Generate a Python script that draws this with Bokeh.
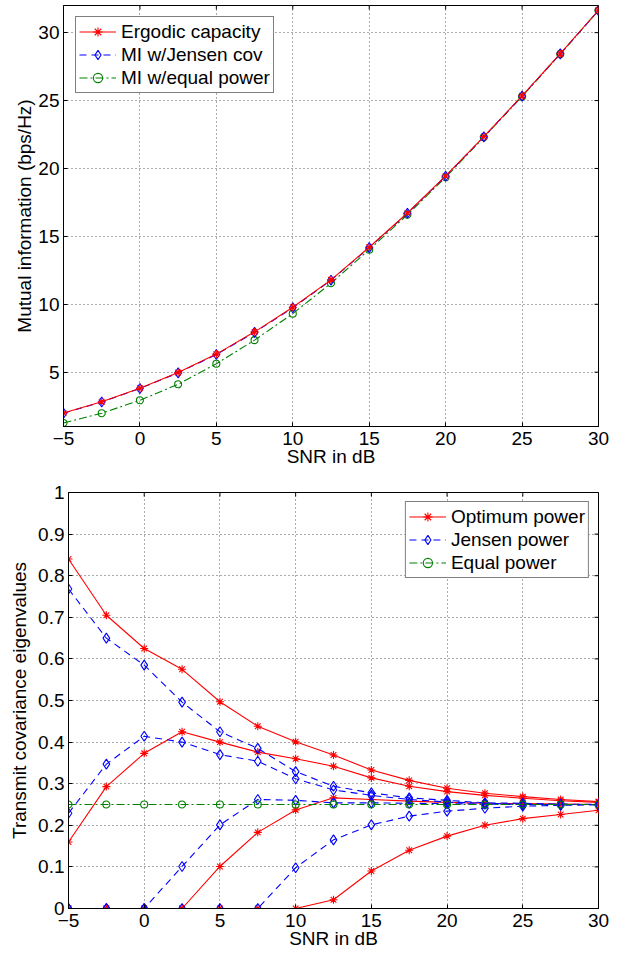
import math
from bokeh.plotting import figure
from bokeh.models import FixedTicker, Legend, LegendItem, Spacer
from bokeh.layouts import column, row
from bokeh.embed import file_html
from bokeh.resources import INLINE

# ---------------- data ----------------
snr = [-5, -2.5, 0, 2.5, 5, 7.5, 10, 12.5, 15, 17.5, 20, 22.5, 25, 27.5, 30]

# top panel: mutual information (bps/Hz)
ergodic = [2.0, 2.82, 3.82, 4.97, 6.33, 7.97, 9.78, 11.8, 14.2, 16.72, 19.45, 22.35, 25.35, 28.45, 31.65]
jensen_mi = [1.98, 2.8, 3.8, 4.95, 6.3, 7.93, 9.74, 11.77, 14.17, 16.7, 19.43, 22.33, 25.33, 28.44, 31.64]
equal_mi = [1.26, 1.98, 2.93, 4.11, 5.62, 7.36, 9.31, 11.55, 14.02, 16.6, 19.35, 22.3, 25.3, 28.42, 31.63]

# bottom panel: transmit covariance eigenvalues
opt1 = [0.84, 0.705, 0.625, 0.575, 0.497, 0.438, 0.401, 0.369, 0.333, 0.308, 0.289, 0.277, 0.269, 0.262, 0.257]
opt2 = [0.16, 0.293, 0.373, 0.425, 0.40, 0.376, 0.36, 0.342, 0.314, 0.294, 0.281, 0.272, 0.265, 0.259, 0.255]
opt3 = [0, 0, 0, 0, 0.101, 0.183, 0.237, 0.266, 0.262, 0.258, 0.255, 0.253, 0.252, 0.251, 0.25]
opt4 = [0, 0, 0, 0, 0, 0, 0, 0.021, 0.09, 0.14, 0.174, 0.2, 0.216, 0.226, 0.236]

jen1 = [0.768, 0.65, 0.585, 0.496, 0.425, 0.385, 0.329, 0.294, 0.278, 0.266, 0.26, 0.254, 0.253, 0.251, 0.25]
jen2 = [0.229, 0.347, 0.414, 0.40, 0.37, 0.354, 0.312, 0.285, 0.272, 0.262, 0.256, 0.253, 0.25, 0.25, 0.25]
jen3 = [0, 0, 0, 0.101, 0.201, 0.262, 0.26, 0.254, 0.254, 0.253, 0.252, 0.251, 0.25, 0.25, 0.25]
jen4 = [0, 0, 0, 0, 0, 0, 0.098, 0.165, 0.201, 0.222, 0.234, 0.241, 0.246, 0.248, 0.249]

eqp = [0.25, 0.25, 0.25, 0.25, 0.25, 0.25, 0.25, 0.25, 0.25, 0.25, 0.25, 0.25, 0.25, 0.25, 0.25]

x_ticks = [-5, 0, 5, 10, 15, 20, 25, 30]
top_y_ticks = [5, 10, 15, 20, 25, 30]
bot_y_ticks = [0, 0.1, 0.2, 0.3, 0.4, 0.5, 0.6, 0.7, 0.8, 0.9, 1.0]

x_lim = (-5, 30)
top_y_lim = (1, 32)
bot_y_lim = (0, 1)

# ---------------- styling ----------------
FONT = "Liberation Sans"
FS = "19px"
RED = "#FF0000"
BLUE = "#0000FF"
GREEN = "#008000"
LW = 1.1
TICK = 4


def style_axis(ax):
    ax.major_tick_in = TICK
    ax.major_tick_out = 0
    ax.minor_tick_line_color = None
    ax.axis_line_color = "black"
    ax.major_tick_line_color = "black"
    ax.major_label_text_font = FONT
    ax.major_label_text_font_size = FS
    ax.major_label_text_color = "black"
    ax.axis_label_text_font = FONT
    ax.axis_label_text_font_size = FS
    ax.axis_label_text_font_style = "normal"
    ax.axis_label_text_color = "black"


def make_fig(width, height, yr, yticks, ylabel, b_left, b_top, b_bottom, ylab_standoff):
    p = figure(width=width, height=height, x_range=x_lim, y_range=yr,
               output_backend="svg", toolbar_location=None,
               min_border_left=b_left, min_border_right=22,
               min_border_top=b_top, min_border_bottom=b_bottom,
               x_axis_label="SNR in dB", y_axis_label=ylabel)
    p.xaxis.ticker = FixedTicker(ticks=x_ticks)
    p.yaxis.ticker = FixedTicker(ticks=yticks)
    for ax in p.xaxis + p.yaxis:
        style_axis(ax)
    p.xaxis.major_label_standoff = 5
    p.xaxis.axis_label_standoff = -2
    p.yaxis.major_label_standoff = 4
    p.yaxis.axis_label_standoff = ylab_standoff
    p.xaxis.major_label_overrides = {-5: "\u22125"}
    p.grid.grid_line_dash = "1 3"
    p.grid.grid_line_color = "#555555"
    p.grid.grid_line_width = 1
    p.outline_line_color = "black"
    p.outline_line_width = 1
    p.background_fill_color = "white"
    p.border_fill_color = "white"
    # inward ticks on the right and top edges of the box (clipped to frame)
    p.scatter([x_lim[1]] * len(yticks), yticks, marker="dash", size=2 * TICK,
              line_color="black", line_width=1)
    p.scatter(x_ticks, [yr[1]] * len(x_ticks), marker="dash", size=2 * TICK,
              angle=math.pi / 2, line_color="black", line_width=1)
    return p


def style_legend(lg):
    lg.label_text_font = FONT
    lg.label_text_font_size = FS
    lg.label_text_color = "black"
    lg.border_line_color = "black"
    lg.border_line_width = 1
    lg.background_fill_color = "white"
    lg.background_fill_alpha = 1
    lg.padding = 3
    lg.spacing = 0
    lg.label_height = 23
    lg.glyph_height = 23
    lg.glyph_width = 37
    lg.label_standoff = 5


# ---------------- top panel ----------------
p1 = make_fig(620, 472, top_y_lim, top_y_ticks, "Mutual information (bps/Hz)", 63, 5, 46, 0)

lg_e = p1.line(snr, equal_mi, color=GREEN, line_width=LW, line_dash="8 3 2 3")
sg_e = p1.scatter(snr, equal_mi, marker="circle", size=7, line_color=GREEN,
                  fill_color=None, line_width=LW)
lb_j = p1.line(snr, jensen_mi, color=BLUE, line_width=LW, line_dash="7 5")
sb_j = p1.scatter(snr, jensen_mi, marker="diamond", size=10, line_color=BLUE,
                  fill_color=None, line_width=LW)
lr_e = p1.line(snr, ergodic, color=RED, line_width=LW)
sr_e = p1.scatter(snr, ergodic, marker="asterisk", size=8, line_color=RED,
                  line_width=LW)

leg1 = Legend(items=[
    LegendItem(label="Ergodic capacity", renderers=[lr_e, sr_e]),
    LegendItem(label="MI w/Jensen cov", renderers=[lb_j, sb_j]),
    LegendItem(label="MI w/equal power", renderers=[lg_e, sg_e]),
], location=(12, 333))
style_legend(leg1)
p1.add_layout(leg1)

# ---------------- bottom panel ----------------
p2 = make_fig(615, 481, bot_y_lim, bot_y_ticks, "Transmit covariance eigenvalues", 63, 20, 45, 5)
p2.yaxis.major_label_overrides = {0: "0", 1: "1"}

red_r = []
for ys in (opt1, opt2, opt3, opt4):
    l = p2.line(snr, ys, color=RED, line_width=LW)
    s = p2.scatter(snr, ys, marker="asterisk", size=8, line_color=RED, line_width=LW)
    red_r.append((l, s))
blue_r = []
for ys in (jen1, jen2, jen3, jen4):
    l = p2.line(snr, ys, color=BLUE, line_width=LW, line_dash="7 5")
    s = p2.scatter(snr, ys, marker="diamond", size=10, line_color=BLUE,
                   fill_color=None, line_width=LW)
    blue_r.append((l, s))
lg2 = p2.line(snr, eqp, color=GREEN, line_width=LW, line_dash="8 3 2 3")
sg2 = p2.scatter(snr, eqp, marker="circle", size=7, line_color=GREEN,
                 fill_color=None, line_width=LW)

leg2 = Legend(items=[
    LegendItem(label="Optimum power", renderers=list(red_r[0])),
    LegendItem(label="Jensen power", renderers=list(blue_r[0])),
    LegendItem(label="Equal power", renderers=[lg2, sg2]),
], location="top_right")
style_legend(leg2)
leg2.margin = 9
p2.add_layout(leg2)

layout = column(p1, row(Spacer(width=5, height=481), p2))
open("out.html", "w").write(file_html(layout, INLINE))
